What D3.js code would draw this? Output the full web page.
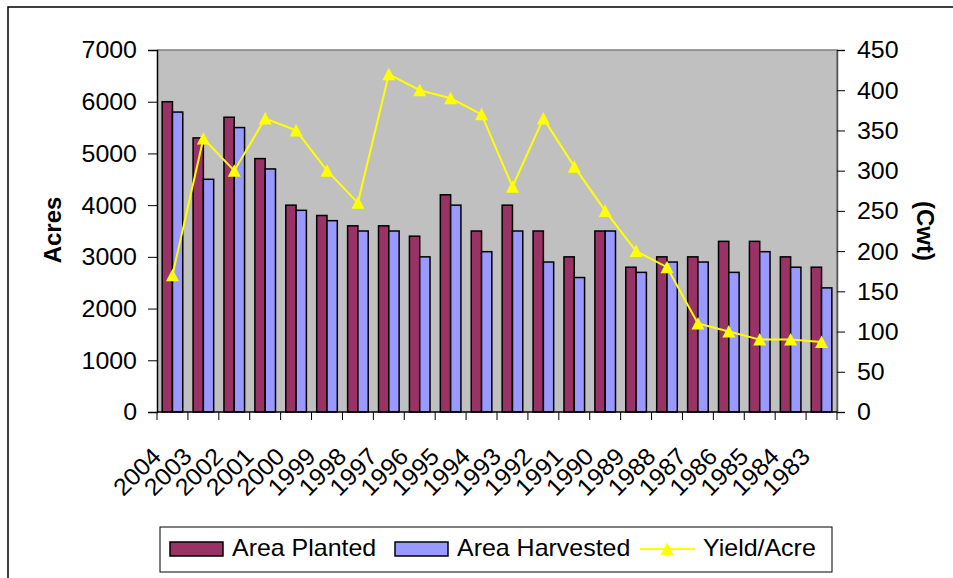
<!DOCTYPE html>
<html>
<head>
<meta charset="utf-8">
<script src="https://cdn.jsdelivr.net/npm/d3@7"></script>
<style>
  html, body { margin: 0; padding: 0; background: #ffffff; }
  svg { display: block; font-family: "Liberation Sans", Arial, sans-serif; }
</style>
</head>
<body>
<svg id="chart" width="953" height="578"></svg>
<script>
// Crop history by year: acreage planted / harvested and yield per acre
const years = ["2004","2003","2002","2001","2000","1999","1998","1997","1996","1995","1994",
               "1993","1992","1991","1990","1989","1988","1987","1986","1985","1984","1983"];
const areaPlanted   = [6000,5300,5700,4900,4000,3800,3600,3600,3400,4200,3500,
                       4000,3500,3000,3500,2800,3000,3000,3300,3300,3000,2800];
const areaHarvested = [5800,4500,5500,4700,3900,3700,3500,3500,3000,4000,3100,
                       3500,2900,2600,3500,2700,2900,2900,2700,3100,2800,2400];
const yieldPerAcre  = [170,340,300,365,350,300,260,420,400,390,370,
                       280,365,305,250,200,180,110,100,90,90,87];
const acresTicks = [0,1000,2000,3000,4000,5000,6000,7000];
const cwtTicks   = [0,50,100,150,200,250,300,350,400,450];
const seriesNames = ["Area Planted","Area Harvested","Yield/Acre"];

const colors = { planted: "#993366", harvested: "#9999FF", yield: "#FFFF00", plot: "#C0C0C0" };
const stretch = 1.04;   // slightly wide glyph rendering

const svg = d3.select("#chart");
const plot = { left: 157, right: 837, top: 50, bottom: 412 };

// outer chart frame
svg.append("rect")
  .attr("x", 8).attr("y", 7).attr("width", 990).attr("height", 620)
  .attr("fill", "#ffffff").attr("stroke", "#000").attr("stroke-width", 1.5);

const x = d3.scaleBand().domain(years).range([plot.left, plot.right]).padding(0);
const xs = d3.scaleBand().domain(["planted","harvested"]).range([0, x.bandwidth()])
  .paddingInner(0).paddingOuter(0.5);
const yL = d3.scaleLinear().domain([0, 7000]).range([plot.bottom, plot.top]);
const yR = d3.scaleLinear().domain([0, 450]).range([plot.bottom, plot.top]);

// plot background
svg.append("rect")
  .attr("x", plot.left).attr("y", plot.top)
  .attr("width", plot.right - plot.left).attr("height", plot.bottom - plot.top)
  .attr("fill", colors.plot);
svg.append("path")
  .attr("d", `M${plot.left},${plot.top}H${plot.right}V${plot.bottom}`)
  .attr("fill", "none").attr("stroke", "#808080").attr("stroke-width", 1.5);

// bars
const barData = [];
years.forEach((yr, i) => {
  barData.push({ year: yr, key: "planted", value: areaPlanted[i] });
  barData.push({ year: yr, key: "harvested", value: areaHarvested[i] });
});
svg.append("g").selectAll("rect").data(barData).join("rect")
  .attr("x", d => x(d.year) + xs(d.key))
  .attr("y", d => yL(d.value))
  .attr("width", xs.bandwidth())
  .attr("height", d => plot.bottom - yL(d.value))
  .attr("fill", d => colors[d.key])
  .attr("stroke", "#000").attr("stroke-width", 1.5);

// left axis (labels drawn separately so they can be widened a touch)
const axL = svg.append("g").attr("transform", `translate(${plot.left},0)`)
  .call(d3.axisLeft(yL).tickValues(acresTicks).tickSize(9).tickFormat(""));
axL.select(".domain").attr("stroke", "#000").attr("stroke-width", 1.5);
axL.selectAll(".tick line").attr("stroke", "#000");
svg.append("g").selectAll("text").data(acresTicks).join("text")
  .attr("transform", d => `translate(137,${yL(d)}) scale(${stretch},1)`)
  .attr("text-anchor", "end").attr("dy", "0.35em")
  .attr("font-size", 24).text(d => d);

// right axis
const axR = svg.append("g").attr("transform", `translate(${plot.right},0)`)
  .call(d3.axisRight(yR).tickValues(cwtTicks).tickSize(8).tickFormat(""));
axR.select(".domain").attr("stroke", "#555").attr("stroke-width", 1.5);
axR.selectAll(".tick line").attr("stroke", "#000");
svg.append("g").selectAll("text").data(cwtTicks).join("text")
  .attr("transform", d => `translate(857,${yR(d)}) scale(${stretch},1)`)
  .attr("text-anchor", "start").attr("dy", "0.35em")
  .attr("font-size", 24).text(d => d);

// bottom axis: ticks at category boundaries
const boundaries = years.map(yr => x(yr)).concat([plot.right]);
const axB = svg.append("g");
axB.append("line").attr("x1", plot.left).attr("x2", plot.right)
  .attr("y1", plot.bottom).attr("y2", plot.bottom)
  .attr("stroke", "#000").attr("stroke-width", 1.5);
axB.selectAll("line.tk").data(boundaries).join("line").attr("class", "tk")
  .attr("x1", d => d).attr("x2", d => d)
  .attr("y1", plot.bottom).attr("y2", plot.bottom + 8)
  .attr("stroke", "#000");
axB.selectAll("text").data(years).join("text")
  .attr("transform", d => `translate(${x(d) + x.bandwidth() / 2 - 10},458) rotate(-45) scale(${stretch},1)`)
  .attr("text-anchor", "end")
  .attr("font-size", 24)
  .text(d => d);

// yield line with triangle markers
const cx = d => x(d) + x.bandwidth() / 2;
svg.append("path")
  .datum(years)
  .attr("d", d3.line().x(cx).y((d, i) => yR(yieldPerAcre[i])))
  .attr("fill", "none").attr("stroke", colors.yield).attr("stroke-width", 2);
const tri = "M0,-6.5L6.5,6L-6.5,6Z";
svg.append("g").selectAll("path").data(years).join("path")
  .attr("d", tri)
  .attr("transform", (d, i) => `translate(${cx(d)},${yR(yieldPerAcre[i])})`)
  .attr("fill", colors.yield);

// axis titles
svg.append("text").attr("transform", "translate(61,230) rotate(-90)")
  .attr("text-anchor", "middle").attr("font-size", 24).attr("font-weight", "bold").text("Acres");
svg.append("text").attr("transform", "translate(917,231) rotate(90)")
  .attr("text-anchor", "middle").attr("font-size", 24).attr("font-weight", "bold").text("(Cwt)");

// legend
const lg = svg.append("g");
lg.append("rect").attr("x", 160).attr("y", 527).attr("width", 672).attr("height", 45)
  .attr("fill", "#fff").attr("stroke", "#000").attr("stroke-width", 1);
const legendItems = [
  { name: seriesNames[0], type: "bar", color: colors.planted, sx: 170, tx: 232 },
  { name: seriesNames[1], type: "bar", color: colors.harvested, sx: 395, tx: 457 },
  { name: seriesNames[2], type: "line", color: colors.yield, sx: 640, tx: 703 }
];
legendItems.forEach(it => {
  if (it.type === "bar") {
    lg.append("rect").attr("x", it.sx).attr("y", 542).attr("width", 53).attr("height", 14)
      .attr("fill", it.color).attr("stroke", "#000").attr("stroke-width", 1.5);
  } else {
    lg.append("line").attr("x1", it.sx).attr("x2", it.sx + 55).attr("y1", 549).attr("y2", 549)
      .attr("stroke", it.color).attr("stroke-width", 2);
    lg.append("path").attr("d", tri).attr("transform", `translate(${it.sx + 27},549)`).attr("fill", it.color);
  }
  lg.append("text").attr("transform", `translate(${it.tx},556) scale(${stretch},1)`)
    .attr("font-size", 24).text(it.name);
});
</script>
</body>
</html>
